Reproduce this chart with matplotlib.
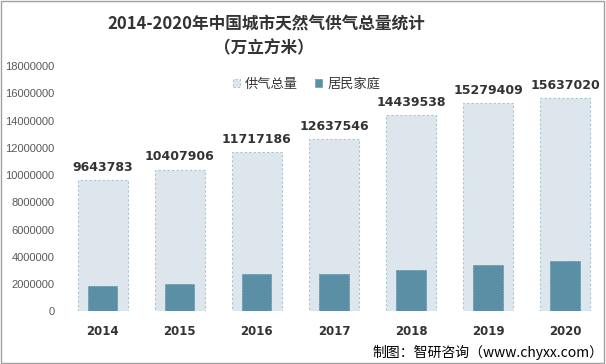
import matplotlib.pyplot as plt
import numpy as np

plt.rcParams['font.family'] = ['Noto Sans CJK SC', 'DejaVu Sans']

years = ['2014', '2015', '2016', '2017', '2018', '2019', '2020']
total_supply = [9643783, 10407906, 11717186, 12637546, 14439538, 15279409, 15637020]
household = [1860000, 2000000, 2740000, 2730000, 3030000, 3400000, 3700000]
yticks = list(range(0, 18000001, 2000000))

fig = plt.figure(figsize=(6.06, 3.64), dpi=100)
ax = fig.add_axes([0.106, 0.145, 0.89, 0.673])

x = np.arange(len(years))
ax.bar(x, total_supply, width=0.65, color='#dde6ed', edgecolor='#a9c4d0',
       linewidth=0.8, linestyle=(0, (2, 2)), label='供气总量')
ax.bar(x, household, width=0.38, color='#5b8fa5', edgecolor='#4d7f95',
       linewidth=0.6, linestyle=(0, (1, 1)), label='居民家庭')

for xi, v in zip(x, total_supply):
    ax.text(xi, v + 450000, str(v), ha='center', va='bottom',
            fontsize=9, fontweight='bold', color='#333333', family='DejaVu Sans')

ax.set_xlim(-0.5, len(years) - 0.5)
ax.set_ylim(0, 18000000)
ax.set_yticks(yticks)
ax.set_yticklabels([str(t) for t in yticks], fontsize=8, color='#595959',
                   family='Liberation Sans')
ax.set_xticks(x)
ax.set_xticklabels(years, fontsize=8.5, fontweight='bold', color='#333333',
                   family='DejaVu Sans')
ax.tick_params(axis='both', length=0)
ax.tick_params(axis='x', pad=10)
ax.tick_params(axis='y', pad=7)
for s in ax.spines.values():
    s.set_visible(False)

ax.legend(loc='center left', bbox_to_anchor=(0.29, 0.925), ncol=2, frameon=False,
          fontsize=9.5, handlelength=0.55, handleheight=0.55, columnspacing=1.3,
          handletextpad=0.4, labelcolor='#333333')

fig.text(0.44, 0.932, '2014-2020年中国城市天然气供气总量统计', ha='center', va='center',
         fontsize=12, fontweight='bold', color='#333333')
fig.text(0.435, 0.868, '（万立方米）', ha='center', va='center',
         fontsize=12, fontweight='bold', color='#333333')
fig.text(0.995, 0.033, '制图：智研咨询（www.chyxx.com）', ha='right', va='center',
         fontsize=10, color='#000000')

fig.patches.append(plt.Rectangle((0.002, 0.002), 0.994, 0.994, transform=fig.transFigure,
                                 fill=False, edgecolor='#a0a0a0', linewidth=1))

fig.savefig('out.png', dpi=100)
